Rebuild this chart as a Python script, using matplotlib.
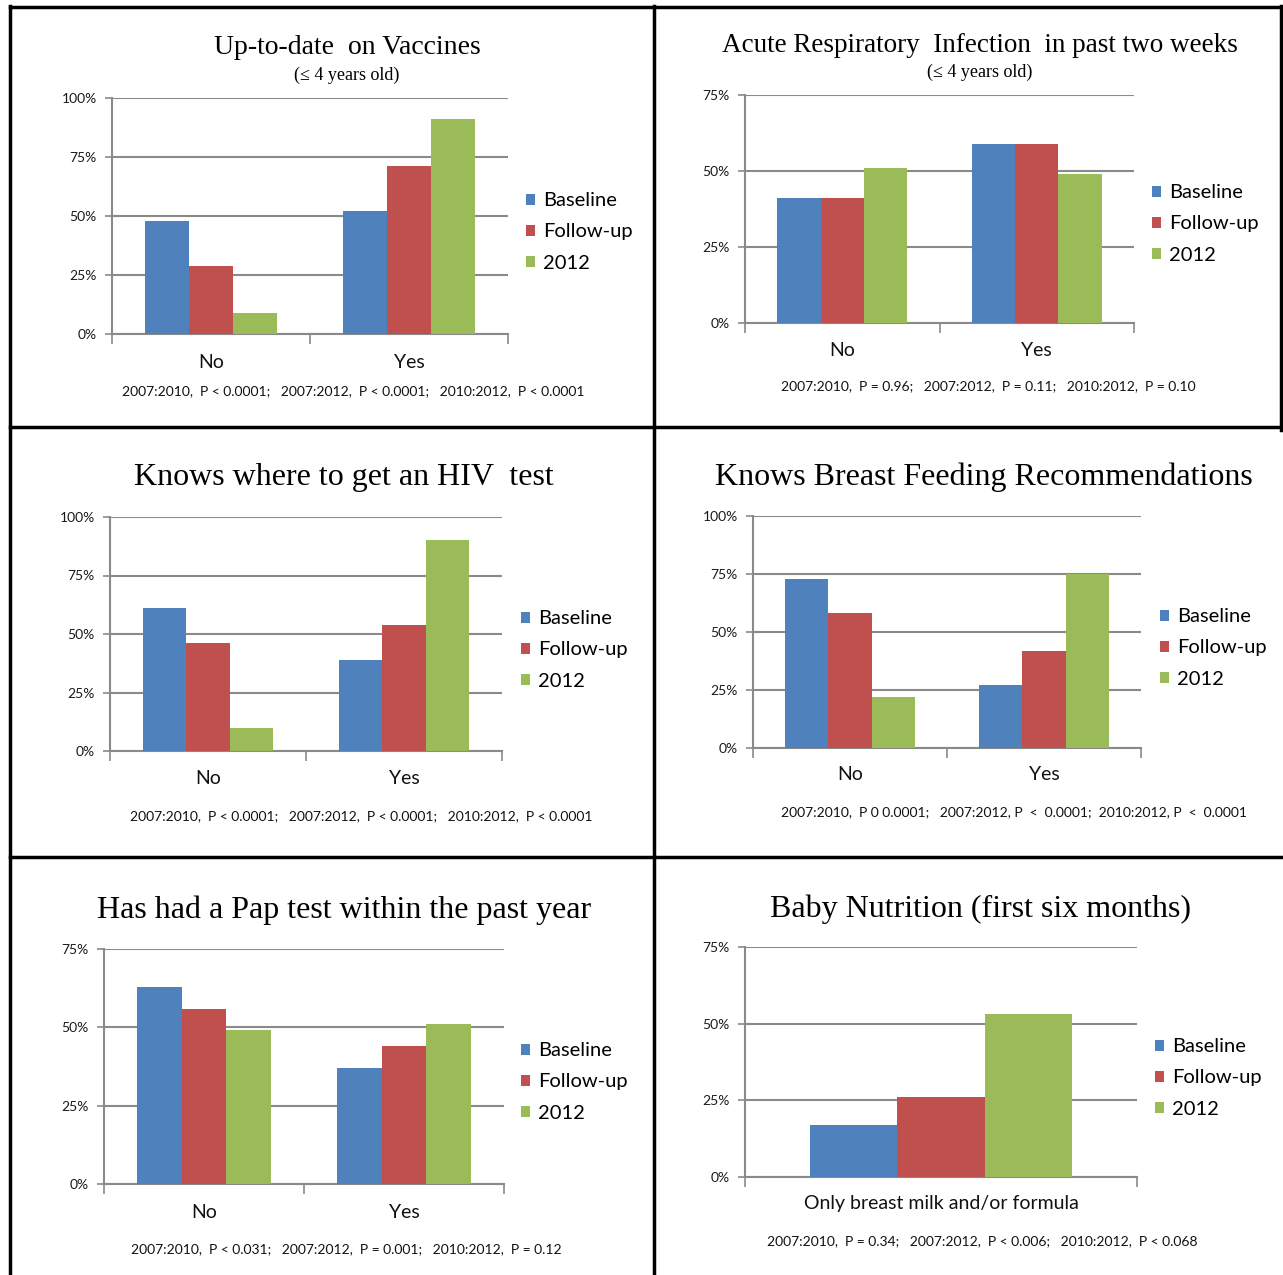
import matplotlib
matplotlib.use("Agg")
import matplotlib.pyplot as plt
from matplotlib.lines import Line2D

W, H = 1283, 1275

series = ['Baseline', 'Follow-up', '2012']
colors = ['#4F81BD', '#C0504D', '#9BBB59']
yes_no = ['No', 'Yes']

vacc_base, vacc_follow, vacc_2012 = [48, 52], [29, 71], [9, 91]
ari_base, ari_follow, ari_2012 = [41, 59], [41, 59], [51, 49]
hiv_base, hiv_follow, hiv_2012 = [61, 39], [46, 54], [10, 90]
bf_base, bf_follow, bf_2012 = [73, 27], [58, 42], [22, 75]
pap_base, pap_follow, pap_2012 = [63, 37], [56, 44], [49, 51]
baby_cats = ['Only breast milk and/or formula']
baby_base, baby_follow, baby_2012 = [17], [26], [53]

titles = ['Up-to-date  on Vaccines',
          'Acute Respiratory  Infection  in past two weeks',
          'Knows where to get an HIV  test',
          'Knows Breast Feeding Recommendations',
          'Has had a Pap test within the past year',
          'Baby Nutrition (first six months)']
subtitle = '(\u2264 4 years old)'
pvals = ['2007:2010,  P < 0.0001;   2007:2012,  P < 0.0001;   2010:2012,  P < 0.0001',
         '2007:2010,  P = 0.96;   2007:2012,  P = 0.11;   2010:2012,  P = 0.10',
         '2007:2010,  P < 0.0001;   2007:2012,  P < 0.0001;   2010:2012,  P < 0.0001',
         '2007:2010,  P 0 0.0001;   2007:2012, P  <  0.0001;  2010:2012, P  <  0.0001',
         '2007:2010,  P < 0.031;   2007:2012,  P = 0.001;   2010:2012,  P = 0.12',
         '2007:2010,  P = 0.34;   2007:2012,  P < 0.006;   2010:2012,  P < 0.068']

SANS = 'Lato'
SERIF = 'Liberation Serif'
GRID = '#8a8a8a'


def fx(x):
    return x / W


def fy(y):
    return 1 - y / H


fig = plt.figure(figsize=(W / 100, H / 100), dpi=100)


def panel(box, cats, vals, ymax, title, ttl_xy, leg_xy, cat_y, p_text, p_xy,
          sub_xy=None, tsize=23):
    x0, ytop, x1, y0 = box
    ax = fig.add_axes([fx(x0), fy(y0), fx(x1 - x0), (y0 - ytop) / H])
    n = len(cats)
    w = 1 / 4.5
    for i, v in enumerate(vals):
        pos = [c + (i - 1) * w for c in range(n)]
        ax.bar(pos, v, w, color=colors[i], label=series[i], zorder=3)
    ax.set_xlim(-0.5, n - 0.5)
    ax.set_ylim(0, ymax)
    yt = list(range(0, ymax + 1, 25))
    ax.set_yticks(yt)
    ax.set_yticklabels([f'{t}%' for t in yt], fontsize=10, family=SANS,
                       color='#1a1a1a')
    ax.yaxis.grid(True, color=GRID, lw=1.5, zorder=0)
    ax.set_xticks([k - 0.5 for k in range(n + 1)])
    ax.set_xticklabels([])
    ax.tick_params(axis='x', length=7, width=1.2, color=GRID, direction='out')
    ax.tick_params(axis='y', length=5, width=1.2, color=GRID, pad=6)
    for s in ['top', 'right']:
        ax.spines[s].set_visible(False)
    for s in ['left', 'bottom']:
        ax.spines[s].set_color(GRID)
        ax.spines[s].set_linewidth(1.5)
    for k, c in enumerate(cats):
        ax.text(k, -(cat_y - y0) / (y0 - ytop), c,
                transform=ax.get_xaxis_transform(), ha='center', va='center',
                fontsize=14, family=SANS, color='#111111')
    fig.text(fx(ttl_xy[0]), fy(ttl_xy[1]), title, ha='center', va='center',
             fontsize=tsize, family=SERIF)
    if sub_xy is not None:
        fig.text(fx(sub_xy[0]), fy(sub_xy[1]), subtitle, ha='center',
                 va='center', fontsize=13, family=SERIF)
    fig.text(fx(p_xy[0]), fy(p_xy[1]), p_text, ha='center', va='center',
             fontsize=10, family=SANS, color='#111111')
    ax.legend(loc='center left', bbox_to_anchor=(fx(leg_xy[0]), fy(leg_xy[1])),
              bbox_transform=fig.transFigure, frameon=False,
              prop={'family': SANS, 'size': 14.5}, handlelength=0.45,
              handleheight=0.45, handletextpad=0.4, labelspacing=0.7,
              borderpad=0, borderaxespad=0)
    return ax


panel((112, 98, 508, 334), yes_no, [vacc_base, vacc_follow, vacc_2012], 100,
      titles[0], (347, 47), (526, 232), 363, pvals[0], (353, 391),
      sub_xy=(347, 75), tsize=20)
panel((745, 95, 1134, 323), yes_no, [ari_base, ari_follow, ari_2012], 75,
      titles[1], (980, 45), (1152, 224), 350, pvals[1], (988, 386),
      sub_xy=(980, 72), tsize=19.5)
panel((110, 517, 502, 751), yes_no, [hiv_base, hiv_follow, hiv_2012], 100,
      titles[2], (344, 478), (521, 650), 779, pvals[2], (361, 816))
panel((753, 516, 1141, 748), yes_no, [bf_base, bf_follow, bf_2012], 100,
      titles[3], (984, 477), (1160, 648), 775, pvals[3], (1014, 812))
panel((104, 949, 504, 1184), yes_no, [pap_base, pap_follow, pap_2012], 75,
      titles[4], (344, 910), (521, 1082), 1212, pvals[4], (346, 1249))
panel((745, 947, 1137, 1177), baby_cats, [baby_base, baby_follow, baby_2012], 75,
      titles[5], (981, 909), (1155, 1078), 1204, pvals[5], (982, 1241))

# panel frame lines
frame = [((10, 10), (6, 1275)), ((654, 654), (6, 1275)), ((1281, 1281), (6, 430)),
         ((10, 1283), (7, 7)), ((10, 1283), (427, 427)), ((10, 1283), (857, 857))]
for xs, ys in frame:
    fig.add_artist(Line2D([fx(v) for v in xs], [fy(v) for v in ys],
                          transform=fig.transFigure, color='black', lw=2.5))

fig.savefig('out.png', dpi=100, facecolor='white')
